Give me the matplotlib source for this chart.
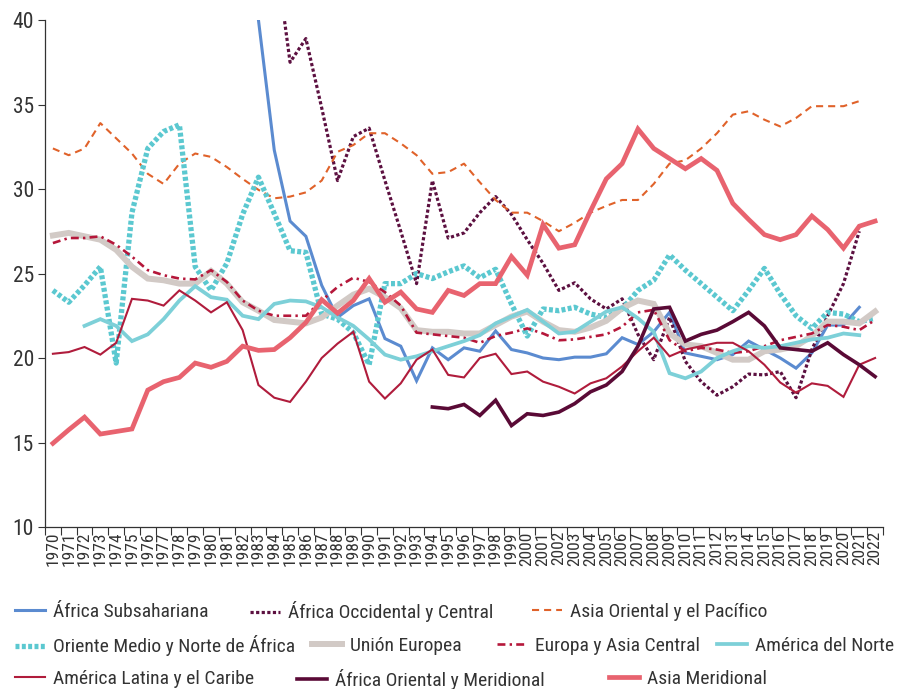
import numpy as np
import matplotlib
matplotlib.use("Agg")
import matplotlib.pyplot as plt

plt.rcParams['font.family'] = ['Roboto Condensed', 'Liberation Sans', 'DejaVu Sans']

nan = np.nan

# años (eje x)
years = [str(y) for y in range(1970, 2023)]

# series
africa_subsahariana = [nan] * 13 + [
    40.0, 32.3, 28.1, 27.2, 24.3, 22.4, 23.1, 23.5, 21.15, 20.7,
    18.65, 20.6, 19.9, 20.6, 20.4, 21.6, 20.5, 20.3, 20.0, 19.9,
    20.05, 20.05, 20.25, 21.2, 20.8, 21.55, 22.7, 20.3, 20.1, 19.9,
    20.2, 21.0, 20.5, 20.0, 19.4, 20.3, 21.95, 21.95, 23.0, nan]

africa_occidental = [nan] * 14 + [
    44.5, 37.5, 38.9, 34.8, 30.5, 33.1, 33.6, 30.5, 27.5, 24.4,
    30.5, 27.1, 27.4, 28.6, 29.55, 28.5, 27.0, 25.6, 24.0, 24.45,
    23.5, 22.9, 23.5, 21.4, 19.9, 22.4, 19.8, 18.6, 17.8, 18.3,
    19.05, 19.0, 19.2, 17.65, 20.5, 22.5, 24.4, 27.5, nan]

asia_oriental = [
    32.4, 32.0, 32.4, 33.9, 33.0, 32.1, 30.9, 30.3, 31.5, 32.1,
    31.9, 31.3, 30.6, 29.95, 29.45, 29.55, 29.8, 30.5, 32.2, 32.6,
    33.3, 33.3, 32.7, 32.0, 30.9, 31.0, 31.5, 30.4, 29.35, 28.6,
    28.6, 28.1, 27.5, 28.0, 28.6, 29.0, 29.35, 29.35, 30.3, 31.5,
    31.7, 32.4, 33.3, 34.4, 34.6, 34.1, 33.7, 34.2, 34.9, 34.9,
    34.9, 35.2, nan]

oriente_medio = [
    24.0, 23.3, 24.3, 25.4, 19.7, 28.6, 32.4, 33.4, 33.8, 25.4,
    24.0, 25.6, 28.5, 30.7, 28.55, 26.35, 26.25, 22.6, 22.3, 21.5,
    19.6, 24.4, 24.4, 25.0, 24.7, 25.1, 25.45, 24.75, 25.25, 23.2,
    21.3, 22.9, 22.8, 23.0, 22.6, 22.4, 22.9, 24.0, 24.6, 26.1,
    25.2, 24.4, 23.6, 22.8, 24.0, 25.3, 23.8, 22.5, 21.75, 22.7,
    22.6, 22.15, 22.35]

union_europea = [
    27.25, 27.4, 27.2, 27.0, 26.4, 25.4, 24.7, 24.6, 24.4, 24.4,
    25.15, 24.4, 23.3, 22.8, 22.25, 22.15, 22.05, 22.4, 23.1, 23.75,
    24.1, 23.6, 22.95, 21.65, 21.55, 21.55, 21.45, 21.45, 21.95, 22.45,
    22.75, 22.15, 21.65, 21.55, 21.8, 22.2, 22.95, 23.4, 23.2, 21.45,
    20.8, 20.7, 20.3, 19.9, 19.9, 20.4, 20.5, 20.7, 21.3, 22.15,
    22.15, 22.05, 22.75]

europa_asia_central = [
    26.8, 27.1, 27.1, 27.2, 26.7, 26.0, 25.2, 24.9, 24.7, 24.65,
    25.2, 24.5, 23.4, 22.8, 22.5, 22.5, 22.5, 23.4, 24.2, 24.75,
    24.5, 23.9, 23.1, 21.5, 21.4, 21.3, 21.2, 20.9, 21.3, 21.5,
    21.75, 21.45, 21.05, 21.1, 21.25, 21.4, 21.85, 22.7, 22.85, 21.05,
    20.4, 20.6, 20.5, 20.3, 20.4, 20.7, 21.05, 21.25, 21.45, 21.95,
    21.85, 21.65, 22.25]

america_norte = [nan, nan,
    21.9, 22.3, 21.9, 21.0, 21.4, 22.3, 23.4, 24.25,
    23.6, 23.45, 22.5, 22.3, 23.2, 23.4, 23.35, 23.0, 22.4, 21.9,
    21.1, 20.2, 19.9, 20.1, 20.4, 20.7, 21.0, 21.35, 22.05, 22.45,
    22.85, 22.15, 21.45, 21.55, 22.15, 22.75, 23.0, 22.35, 21.55, 19.1,
    18.8, 19.2, 20.0, 20.4, 20.7, 20.6, 20.7, 20.9, 21.1, 21.2,
    21.45, 21.35, nan]

america_latina = [
    20.25, 20.35, 20.65, 20.2, 20.9, 23.5, 23.4, 23.1, 24.0, 23.4,
    22.7, 23.3, 21.65, 18.4, 17.65, 17.4, 18.6, 20.0, 20.85, 21.55,
    18.6, 17.6, 18.5, 19.9, 20.5, 19.0, 18.85, 20.0, 20.25, 19.05,
    19.2, 18.6, 18.3, 17.9, 18.5, 18.8, 19.5, 20.4, 21.2, 20.1,
    20.5, 20.7, 20.9, 20.9, 20.4, 19.6, 18.55, 17.95, 18.5, 18.35,
    17.7, 19.6, 20.0]

africa_oriental = [nan] * 24 + [
    17.1, 17.0, 17.25, 16.6, 17.5, 16.0, 16.7, 16.6, 16.8, 17.3,
    18.0, 18.4, 19.2, 20.7, 22.9, 23.0, 21.0, 21.4, 21.65, 22.15,
    22.7, 21.9, 20.6, 20.5, 20.4, 20.9, 20.2, 19.6, 18.9]

asia_meridional = [
    14.95, 15.75, 16.5, 15.5, 15.65, 15.8, 18.1, 18.6, 18.85, 19.7,
    19.45, 19.8, 20.7, 20.45, 20.5, 21.2, 22.1, 23.45, 22.65, 23.4,
    24.7, 23.3, 23.9, 22.9, 22.7, 24.0, 23.7, 24.4, 24.4, 26.0,
    24.9, 27.9, 26.5, 26.7, 28.7, 30.6, 31.5, 33.55, 32.4, 31.8,
    31.2, 31.8, 31.1, 29.15, 28.2, 27.3, 27.0, 27.3, 28.4, 27.6,
    26.5, 27.8, 28.1]

labels = [
    "África Subsahariana", "África Occidental y Central", "Asia Oriental y el Pacífico",
    "Oriente Medio y Norte de África", "Unión Europea", "Europa y Asia Central",
    "América del Norte", "América Latina y el Caribe", "África Oriental y Meridional",
    "Asia Meridional",
]

# estilos: (color, ancho, estilo de línea)
styles = [
    ("#5b8bd0", 2.2, "-"),
    ("#5c1040", 2.3, (0, (1.0, 0.75))),
    ("#e0622a", 1.5, (0, (3.4, 2.4))),
    ("#5bc8d0", 3.8, (0, (0.75, 0.45))),
    ("#d2cac6", 4.3, "-"),
    ("#b5173a", 1.9, (0, (3.0, 1.6, 0.9, 1.6))),
    ("#7dd0d8", 2.7, "-"),
    ("#b01c3c", 1.5, "-"),
    ("#5a0a36", 2.6, "-"),
    ("#e8636f", 3.4, "-"),
]

series = [africa_subsahariana, africa_occidental, asia_oriental, oriente_medio,
          union_europea, europa_asia_central, america_norte, america_latina,
          africa_oriental, asia_meridional]

fig = plt.figure(figsize=(8.99, 6.89), dpi=100)
ax = fig.add_axes([45 / 899, 1 - 527 / 689, 838 / 899, 507 / 689])

x = np.arange(len(years))
lines = []
for vals, lab, (col, lw, ls) in zip(series, labels, styles):
    ln, = ax.plot(x, np.array(vals, dtype=float), color=col, lw=lw, ls=ls,
                  label=lab, solid_joinstyle="miter", dash_capstyle="butt")
    lines.append(ln)

ax.set_ylim(10, 40)
ax.set_xlim(-0.5, len(years) - 0.5)
ax.set_yticks(range(10, 41, 5))

# marcas entre categorías, etiquetas en el centro
ax.set_xticks(np.arange(-0.5, len(years), 1.0))
ax.set_xticklabels([])
ax.set_xticks(x, minor=True)
ax.set_xticklabels(years, minor=True, rotation=90)
ax.tick_params(axis="x", which="major", length=6, width=0.8, color="#333333")
ax.tick_params(axis="x", which="minor", length=0, pad=3, labelsize=12.5, labelcolor="#333333")
ax.tick_params(axis="y", length=5, width=0.8, color="#333333", pad=3,
               labelsize=15.5, labelcolor="#333333")

for s in ["top", "right"]:
    ax.spines[s].set_visible(False)
for s in ["left", "bottom"]:
    ax.spines[s].set_color("#333333")
    ax.spines[s].set_linewidth(0.9)

# leyenda: cada elemento en su posición (px)
legend_pos = [(15, 612), (250, 612), (532, 612),
              (15, 646), (312, 646), (497, 646), (717, 646),
              (15, 679), (297, 679), (609, 679)]
for ln, lab, (px, py) in zip(lines, labels, legend_pos):
    leg = fig.legend([ln], [lab], loc="center left",
                     bbox_to_anchor=(px / 899, 1 - py / 689),
                     frameon=False, borderpad=0, borderaxespad=0,
                     handlelength=1.55, handletextpad=0.42, fontsize=14)
    for t in leg.get_texts():
        t.set_color("#333333")

fig.savefig("out.png", dpi=100)
